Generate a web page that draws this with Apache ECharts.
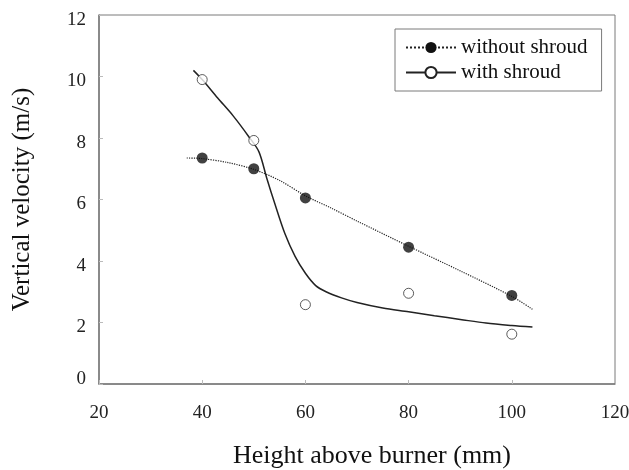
<!DOCTYPE html>
<html>
<head>
<meta charset="utf-8">
<script src="https://cdn.jsdelivr.net/npm/echarts@6/dist/echarts.min.js"></script>
<style>
  html, body { margin: 0; padding: 0; background: #fff; }
  #chart { width: 629px; height: 470px; }
</style>
</head>
<body>
<div id="chart"></div>
<script>
// measured points
const heights = [40, 50, 60, 80, 100]
const withoutShroud = [7.35, 7.0, 6.05, 4.45, 2.88]
const withShroud = [9.9, 7.92, 2.58, 2.95, 1.62]

// fitted curves
const fitWithoutX = [37, 40, 45, 50, 55, 60, 65, 70, 80, 90, 100, 104]
const fitWithoutY = [7.35, 7.33, 7.2, 6.98, 6.62, 6.12, 5.72, 5.3, 4.48, 3.68, 2.85, 2.43]
const fitWithX = [38.3, 40, 43, 46, 49, 51, 52.5, 54, 56, 58, 60, 62, 64, 67, 70, 75, 80, 85, 90, 95, 100, 104]
const fitWithY = [10.2, 9.9, 9.3, 8.72, 8.05, 7.55, 6.7, 5.9, 4.9, 4.15, 3.6, 3.2, 3.0, 2.8, 2.65, 2.47, 2.35, 2.22, 2.1, 1.98, 1.9, 1.85]

const xTicks = [20, 40, 60, 80, 100, 120]
const yTicks = [0, 2, 4, 6, 8, 10, 12]

const pairs = (xs, ys) => xs.map((x, i) => [x, ys[i]])

const font = 'Liberation Serif'
const axisGray = '#7a7a7a'

const chart = echarts.init(document.getElementById('chart'))
chart.setOption({
  animation: false,
  textStyle: { fontFamily: font },
  grid: {
    left: 99, right: 14, top: 15, bottom: 86,
    outerBoundsMode: 'none',
    containLabel: false,
    show: true,
    borderColor: axisGray,
    borderWidth: 1
  },
  legend: {
    left: 395,
    top: 29,
    orient: 'vertical',
    data: ['without shroud', 'with shroud'],
    itemWidth: 50,
    itemHeight: 14,
    itemGap: 4,
    padding: [8, 14, 8, 10],
    borderColor: axisGray,
    borderWidth: 1,
    textStyle: { fontFamily: font, fontSize: 21, color: '#111' }
  },
  xAxis: {
    type: 'value',
    min: xTicks[0],
    max: xTicks[xTicks.length - 1],
    interval: 20,
    name: 'Height above burner (mm)',
    nameLocation: 'middle',
    nameGap: 59,
    nameTextStyle: { fontFamily: font, fontSize: 26, color: '#111', padding: [0, 0, 0, 30] },
    axisLine: { lineStyle: { color: axisGray, width: 1.5 } },
    axisTick: { inside: true, length: 4, lineStyle: { color: '#bbb' } },
    axisLabel: { fontFamily: font, fontSize: 19, color: '#222', margin: 20 },
    splitLine: { show: false }
  },
  yAxis: {
    type: 'value',
    min: yTicks[0],
    max: yTicks[yTicks.length - 1],
    interval: 2,
    name: 'Vertical velocity (m/s)',
    nameLocation: 'middle',
    nameGap: 64,
    nameTextStyle: { fontFamily: font, fontSize: 25, color: '#111' },
    axisLine: { show: true, lineStyle: { color: axisGray, width: 1.5 } },
    axisTick: { show: true, inside: true, length: 4, lineStyle: { color: '#bbb' } },
    axisLabel: {
      fontFamily: font, fontSize: 19, color: '#222', margin: 13,
      formatter: v => (v === 0 ? '{z|0}' : '{n|' + v + '}'),
      rich: {
        n: { fontFamily: font, fontSize: 19, color: '#222', padding: [10, 0, 0, 0] },
        z: { fontFamily: font, fontSize: 19, color: '#222', padding: [0, 0, 10, 0] }
      }
    },
    splitLine: { show: false }
  },
  series: [
    {
      name: 'without shroud',
      type: 'line',
      data: pairs(fitWithoutX, fitWithoutY),
      smooth: 0.3,
      showSymbol: false,
      symbol: 'circle',
      lineStyle: { color: '#222', width: 1.2, type: 'dotted' },
      itemStyle: { color: '#111' },
      z: 2
    },
    {
      name: 'with shroud',
      type: 'line',
      data: pairs(fitWithX, fitWithY),
      smooth: 0.3,
      showSymbol: false,
      symbol: 'circle',
      lineStyle: { color: '#222', width: 1.5 },
      itemStyle: { color: '#fff', borderColor: '#222', borderWidth: 1 },
      z: 2
    },
    {
      name: 'without shroud',
      type: 'scatter',
      data: pairs(heights, withoutShroud),
      symbol: 'circle',
      symbolSize: 11,
      itemStyle: { color: '#111' },
      z: 3
    },
    {
      name: 'with shroud',
      type: 'scatter',
      data: pairs(heights, withShroud),
      symbol: 'circle',
      symbolSize: 10,
      itemStyle: { color: '#fff', borderColor: '#333', borderWidth: 1 },
      z: 3
    }
  ]
})
</script>
</body>
</html>
